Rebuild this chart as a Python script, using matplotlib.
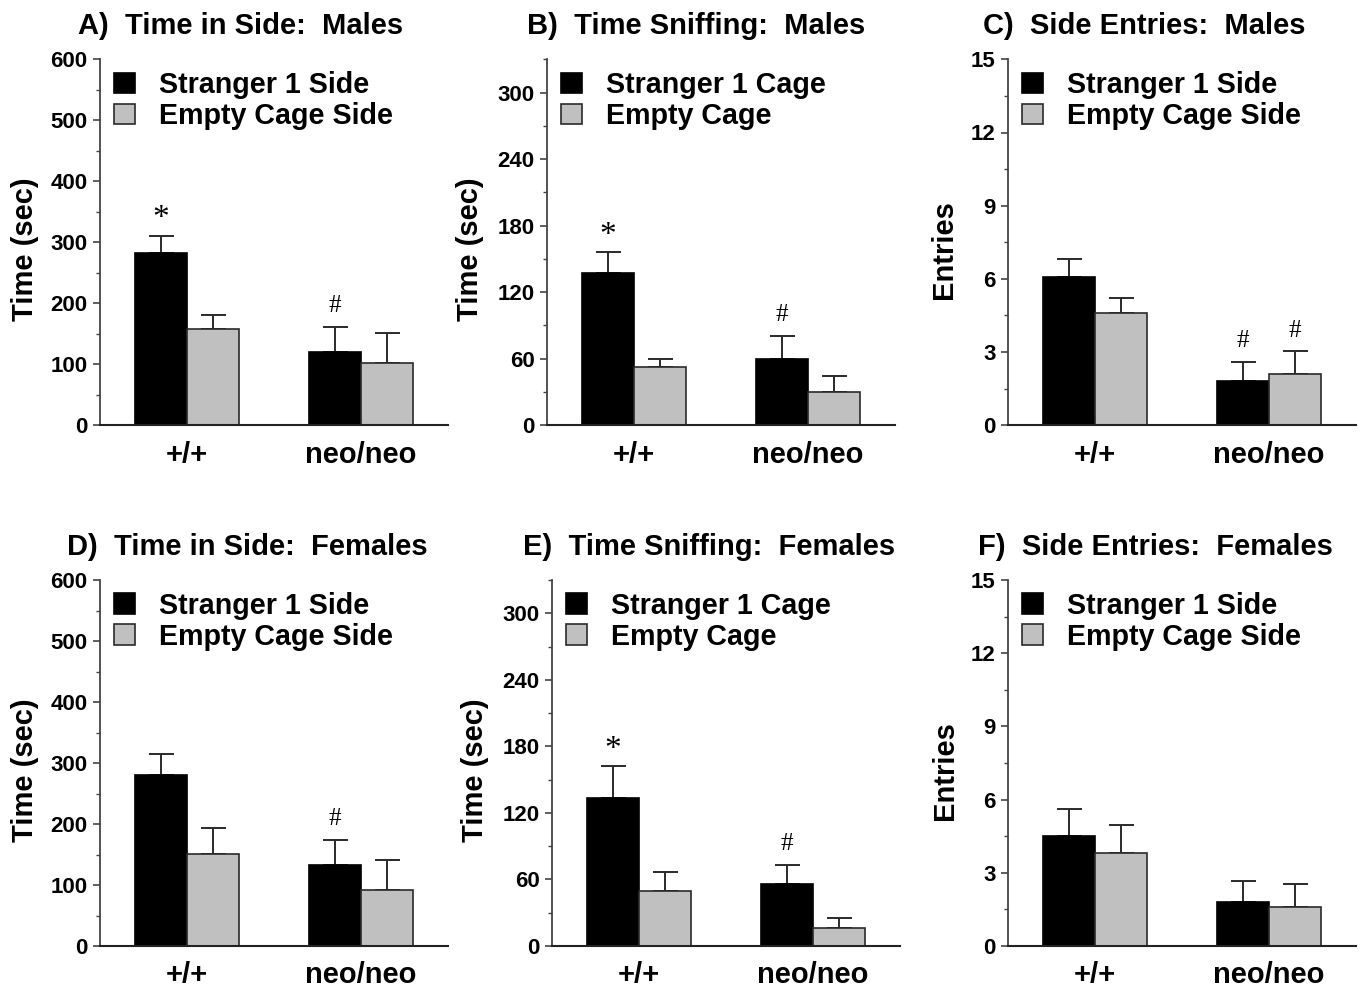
import matplotlib
matplotlib.use("Agg")
import matplotlib.pyplot as plt
import numpy as np

plt.rcParams['font.family'] = ['Liberation Sans', 'DejaVu Sans']
plt.rcParams['font.weight'] = 'bold'

groups = ['+/+', 'neo/neo']

titles = ['A)  Time in Side:  Males', 'B)  Time Sniffing:  Males', 'C)  Side Entries:  Males',
          'D)  Time in Side:  Females', 'E)  Time Sniffing:  Females', 'F)  Side Entries:  Females']
ylabels = ['Time (sec)', 'Time (sec)', 'Entries', 'Time (sec)', 'Time (sec)', 'Entries']
labels_side = ['Stranger 1 Side', 'Empty Cage Side']
labels_cage = ['Stranger 1 Cage', 'Empty Cage']

# means and SEM (upper) per panel
a_s1 = [282, 120];   a_s1_err = [29, 41]
a_em = [158, 102];   a_em_err = [22, 49]
b_s1 = [137, 59.5];  b_s1_err = [19, 21]
b_em = [53, 30];     b_em_err = [7, 14]
c_s1 = [6.07, 1.82]; c_s1_err = [0.73, 0.78]
c_em = [4.59, 2.09]; c_em_err = [0.64, 0.94]
d_s1 = [280, 133];   d_s1_err = [35, 41]
d_em = [151, 92];    d_em_err = [43, 49]
e_s1 = [133.5, 55.8]; e_s1_err = [28.5, 17.2]
e_em = [49.5, 16.2];  e_em_err = [17.1, 8.8]
f_s1 = [4.51, 1.82]; f_s1_err = [1.12, 0.83]
f_em = [3.83, 1.61]; f_em_err = [1.12, 0.92]

# significance marks
a_marks = [['*', '#'], ['', '']]
b_marks = [['*', '#'], ['', '']]
c_marks = [['', '#'], ['', '#']]
d_marks = [['', '#'], ['', '']]
e_marks = [['*', '#'], ['', '']]
f_marks = [['', ''], ['', '']]

panels = [
    (a_s1, a_s1_err, a_em, a_em_err, a_marks, labels_side, 600, 100, 50),
    (b_s1, b_s1_err, b_em, b_em_err, b_marks, labels_cage, 330, 60, 30),
    (c_s1, c_s1_err, c_em, c_em_err, c_marks, labels_side, 15, 3, 1.5),
    (d_s1, d_s1_err, d_em, d_em_err, d_marks, labels_side, 600, 100, 50),
    (e_s1, e_s1_err, e_em, e_em_err, e_marks, labels_cage, 330, 60, 30),
    (f_s1, f_s1_err, f_em, f_em_err, f_marks, labels_side, 15, 3, 1.5),
]

W, H = 1361, 990
fig = plt.figure(figsize=(W / 100, H / 100), dpi=100)

lefts = [100, 547, 1008, 100, 552, 1008]
bottoms = [425.3, 425.3, 425.3, 946, 946, 946]
title_x = [-0.063, -0.057, -0.072, -0.095, -0.083, -0.086]
ylab_x = [-0.216, -0.22, -0.184, -0.216, -0.221, -0.18]
aw, ah = 348, 366

centers = np.array([1.0, 3.0])
bw = 0.6
gray = '#c0c0c0'
edge = '#2a2a2a'

for i, (s1, s1e, em, eme, marks, leglabels, ymax, major, minor) in enumerate(panels):
    ax = fig.add_axes([lefts[i] / W, 1 - bottoms[i] / H, aw / W, ah / H])
    x1 = centers - bw / 2
    x2 = centers + bw / 2
    ax.bar(x1, s1, bw, color='black', edgecolor='black', linewidth=1.2, label=leglabels[0], zorder=2)
    ax.bar(x2, em, bw, color=gray, edgecolor=edge, linewidth=1.2, label=leglabels[1], zorder=2)
    ax.errorbar(x1, s1, yerr=[np.zeros(2), s1e], fmt='none', ecolor=edge, elinewidth=1.4,
                capsize=9, capthick=1.4, zorder=1)
    ax.errorbar(x2, em, yerr=[np.zeros(2), eme], fmt='none', ecolor=edge, elinewidth=1.4,
                capsize=9, capthick=1.4, zorder=1)
    for xs, vals, errs, mk in ((x1, s1, s1e, marks[0]), (x2, em, eme, marks[1])):
        for xx, v, e, m in zip(xs, vals, errs, mk):
            if m == '*':
                ax.annotate(m, (xx, v + e), xytext=(0, 1), textcoords='offset points',
                            ha='center', va='bottom', fontsize=24, fontweight='normal',
                            family=['Liberation Serif', 'DejaVu Serif'])
            elif m == '#':
                ax.annotate(m, (xx, v + e), xytext=(0, 7), textcoords='offset points',
                            ha='center', va='bottom', fontsize=18, fontweight='normal',
                            family=['Liberation Serif', 'DejaVu Serif'])
    ax.set_xlim(0, 4)
    ax.set_ylim(0, ymax)
    ax.set_yticks(np.arange(0, ymax + 0.001, major))
    ax.set_yticks(np.arange(0, ymax + 0.001, minor), minor=True)
    ax.yaxis.set_major_formatter(matplotlib.ticker.FuncFormatter(lambda v, p: f'{v:g}'))
    ax.set_xticks(centers)
    ax.set_xticklabels(groups, fontsize=21, fontweight='bold')
    ax.tick_params(axis='x', length=0, pad=11)
    ax.tick_params(axis='y', which='major', length=5, width=1.2, color='#444444',
                   labelsize=16, pad=4)
    ax.tick_params(axis='y', which='minor', length=3, width=1.0, color='#444444')
    for lab in ax.get_yticklabels():
        lab.set_fontweight('bold')
    for s in ('top', 'right'):
        ax.spines[s].set_visible(False)
    ax.spines['left'].set_color('#444444')
    ax.spines['left'].set_linewidth(1.3)
    ax.spines['bottom'].set_color('#222222')
    ax.spines['bottom'].set_linewidth(1.5)
    ax.set_ylabel(ylabels[i], fontsize=21, fontweight='bold', va='center')
    ax.yaxis.set_label_coords(ylab_x[i], 0.48)
    ax.text(title_x[i], 1.09, titles[i], transform=ax.transAxes, ha='left', va='center',
            fontsize=21, fontweight='bold')
    ax.legend(loc='upper left', bbox_to_anchor=(0.04, 0.968), frameon=False,
              handlelength=0.74, handleheight=0.74, handletextpad=0.85, labelspacing=0.1,
              borderpad=0, borderaxespad=0, prop={'weight': 'bold', 'size': 20.6})

fig.savefig('out.png', dpi=100)
